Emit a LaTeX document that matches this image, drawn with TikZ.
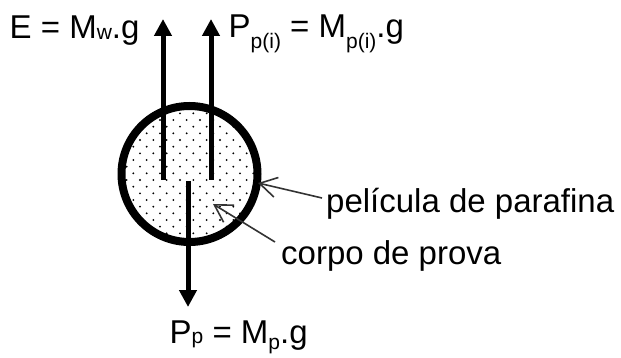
\documentclass[tikz,border=0pt]{standalone}
\usepackage{fontspec}
\setmainfont{Liberation Sans}
\usetikzlibrary{arrows.meta}
\newcommand\subsz[1]{{\fontsize{21}{21}\selectfont #1}}
\newcommand\lowsub[2]{\raisebox{-#1pt}{\subsz{#2}}}
\begin{document}
\begin{tikzpicture}[x=1pt,y=-1pt,
  force/.style={line width=5pt, -{Triangle[length=17pt,width=17pt]}},
  ptr/.style={line width=1.6pt, draw=black!80, -{Straight Barb[length=17pt,width=20pt,line width=1.6pt]}},
  lbl/.style={anchor=base west, inner sep=0pt, font=\fontsize{33}{38}\selectfont}]
\useasboundingbox (0,0) rectangle (621,358);
\fill[white] (0,0) rectangle (621,358);
% dotted interior
\begin{scope}
  \clip (189.5,174) circle (68);
  \foreach \j in {-3,...,22} {
    \pgfmathsetmacro\off{mod(\j,2)*6.667}
    \foreach \i in {-7,...,7} {
      \fill (180+\off+13.333*\i, 113.33+6.667*\j) circle (1.05);
    }
  }
\end{scope}
% ring
\node[circle, draw, line width=8pt, minimum size=136pt, inner sep=0pt] (ring) at (189.5,174) {};
% forces
\coordinate (eS) at (163,180); \coordinate (eT) at (163,19);
\coordinate (pS) at (211,180); \coordinate (pT) at (211,19);
\coordinate (wS) at (188,181); \coordinate (wT) at (188,307);
\draw[force] (eS) -- (eT);
\draw[force] (pS) -- (pT);
\draw[force] (wS) -- (wT);
% labels
\node[lbl] (lE) at (9.5,39) {E = M\lowsub{1}{w}.g};
\node[lbl] (lP) at (228.5,38) {P\lowsub{11}{p(i)} = M\lowsub{11}{p(i)}.g};
\node[lbl] (lF) at (326,212) {película de parafina};
\node[lbl] (lC) at (281,264) {corpo de prova};
\node[lbl] (lW) at (169.5,343) {P\lowsub{0}{p} = M\lowsub{6}{p}.g};
% pointers
\coordinate (fT) at (322,198); \coordinate (fH) at (258,183);
\coordinate (cT) at (275,242); \coordinate (cH) at (213,204);
\draw[ptr] (fT) -- (fH);
\draw[ptr] (cT) -- (cH);
\end{tikzpicture}
\end{document}
